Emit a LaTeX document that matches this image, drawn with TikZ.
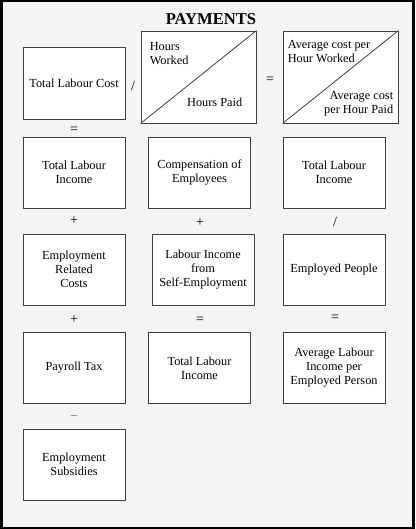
\documentclass[tikz,border=0pt]{standalone}
\usepackage{fontspec}
\setmainfont{Liberation Serif}
\usepackage{xcolor}
\definecolor{PageGray}{rgb}{0.955,0.955,0.955}
\definecolor{EdgeGray}{rgb}{0.25,0.25,0.25}
\usetikzlibrary{calc}

\begin{document}
\begin{tikzpicture}[x=1pt,y=-1pt,
  box/.style={draw=EdgeGray,line width=0.8pt,fill=white,minimum width=102pt,minimum height=71pt,inner sep=0pt,align=center,font=\fontsize{12.3}{14}\selectfont},
  bigbox/.style={box,minimum width=115pt,minimum height=92pt},
  inbox/.style={inner sep=0pt,font=\fontsize{12.3}{14}\selectfont},
  op/.style={inner sep=0pt,font=\fontsize{14}{16}\selectfont}]

\fill[black] (0, 0) rectangle (415, 529);
\fill[PageGray] (3, 2) rectangle (412, 527);

\node[font=\fontsize{16.6}{18}\selectfont\bfseries] (title) at (211, 19) {PAYMENTS};

% first row
\node[box,minimum height=72pt] (cost) at (74, 83) {Total Labour Cost};
\node[bigbox] (hours) at (198.5, 77) {};
\node[bigbox] (avg) at (340.5, 77) {};
\draw[EdgeGray,line width=0.8pt] (hours.south west) -- (hours.north east);
\draw[EdgeGray,line width=0.8pt] (avg.south west) -- (avg.north east);
\node[inbox,anchor=north west,align=left] (worked) at ([xshift=9pt,yshift=-12pt]hours.north west) {Hours\\Worked};
\node[inbox,anchor=base east] (paid) at ([xshift=-14pt,yshift=17pt]hours.south east) {Hours Paid};
\node[inbox,anchor=north west,align=left] (avgworked) at ([xshift=5pt,yshift=-10pt]avg.north west) {Average cost per\\Hour Worked};
\node[inbox,anchor=south east,align=right] (avgpaid) at ([xshift=-5pt,yshift=7pt]avg.south east) {Average cost\\per Hour Paid};
\node[op] (div1) at (133, 86) {/};
\node[op] (eq1) at (270, 80) {=};
\node[op] (eq2) at (74, 130) {=};

% second row
\node[box] (income) at (74, 172.5) {Total Labour\\Income};
\node[box] (comp) at (199.5, 172.5) {Compensation of\\Employees};
\node[box] (income2) at (334, 172.5) {Total Labour\\Income};
\node[op] (plus1) at (74, 221) {+};
\node[op] (plus2) at (200, 223) {+};
\node[op] (div2) at (335, 222) {/};

% third row
\node[box] (related) at (74, 269.5) {Employment\\Related\\Costs};
\node[box] (self) at (203, 269.5) {Labour Income\\from\\Self-Employment};
\node[box] (people) at (334, 269.5) {Employed People};
\node[op] (plus3) at (74, 320) {+};
\node[op] (eq3) at (200, 320) {=};
\node[op] (eq4) at (335, 318) {=};

% fourth row
\node[box] (payroll) at (74, 368) {Payroll Tax};
\node[box] (income3) at (199.5, 368) {Total Labour\\Income};
\node[box] (person) at (334, 368) {Average Labour\\Income per\\Employed Person};
\node[op,text=black!55] (minus) at (74, 418) {−};

% last row
\node[box] (subsidies) at (74, 464.5) {Employment\\Subsidies};

\end{tikzpicture}
\end{document}
